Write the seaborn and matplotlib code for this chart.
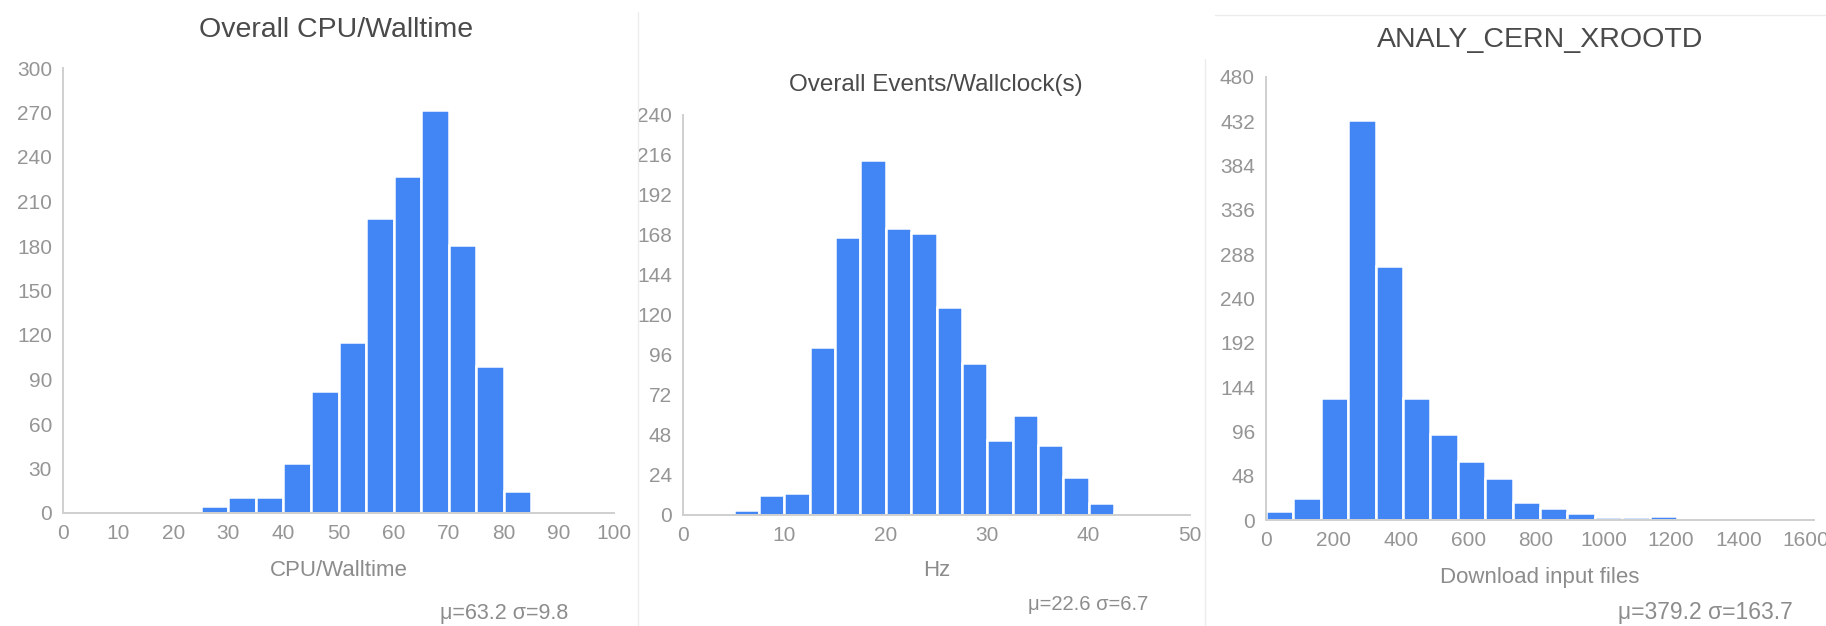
import numpy as np
import pandas as pd
import seaborn as sns
import matplotlib.pyplot as plt
from matplotlib.lines import Line2D

# counts per bin (20 equal bins per panel)
cpu_counts = [0, 0, 0, 0, 0, 5, 11, 11, 34, 82, 115, 199, 227, 272, 181, 99, 15, 0, 0, 0]
cpu_range = (0, 100)
cpu_ticks = list(range(0, 101, 10))
cpu_yticks = list(range(0, 301, 30))

hz_counts = [0, 0, 3, 12, 13, 101, 167, 213, 172, 169, 125, 91, 45, 60, 42, 23, 7, 1, 0, 0]
hz_range = (0, 50)
hz_ticks = list(range(0, 51, 10))
hz_yticks = list(range(0, 241, 24))

dl_counts = [10, 24, 132, 433, 275, 132, 93, 64, 45, 20, 13, 8, 3, 3, 4, 0, 0, 0, 0, 2]
dl_range = (0, 1624)
dl_ticks = list(range(0, 1601, 200))
dl_yticks = list(range(0, 481, 48))

titles = ['Overall CPU/Walltime', 'Overall Events/Wallclock(s)', 'ANALY_CERN_XROOTD']
xlabels = ['CPU/Walltime', 'Hz', 'Download input files']
stats = ['\u03bc=63.2 \u03c3=9.8', '\u03bc=22.6 \u03c3=6.7', '\u03bc=379.2 \u03c3=163.7']

sns.set_style('white')
plt.rcParams['font.family'] = ['Liberation Sans', 'DejaVu Sans']

W, H = 1826, 626
fig = plt.figure(figsize=(W / 100, H / 100), dpi=100)

def fx(px):
    return px / W

def fy(py):
    return 1 - py / H

# axes boxes in pixels: left, right, bottom, top
boxes = [(63, 614, 513, 68), (683, 1190, 515, 115), (1266, 1814, 520, 77)]
panels = [
    (cpu_counts, cpu_range, cpu_ticks, cpu_yticks),
    (hz_counts, hz_range, hz_ticks, hz_yticks),
    (dl_counts, dl_range, dl_ticks, dl_yticks),
]
title_pos = [(336, 30, 20.5), (936, 85, 17.5), (1540, 40, 20.5)]
xlabel_y = [571, 571, 577]
stat_pos = [(568, 613, 15.5), (1148, 605, 14.5), (1793, 613, 16.5)]

blue = '#4285f4'
for i, (counts, rng, xt, yt) in enumerate(panels):
    l, r, b, t = boxes[i]
    ax = fig.add_axes([fx(l), fy(b), fx(r - l), (b - t) / H])
    edges = np.linspace(rng[0], rng[1], len(counts) + 1).tolist()
    centers = [(a + c) / 2 for a, c in zip(edges[:-1], edges[1:])]
    df = pd.DataFrame({'x': centers, 'n': counts})
    sns.histplot(data=df, x='x', weights='n', bins=edges, ax=ax,
                 color=blue, alpha=1, edgecolor='white', linewidth=1.8)
    ax.set_xlim(rng)
    ax.set_ylim(0, yt[-1])
    ax.set_xticks(xt)
    ax.set_yticks(yt)
    ax.set_xlabel('')
    ax.set_ylabel('')
    for s in ['top', 'right']:
        ax.spines[s].set_visible(False)
    for s in ['left', 'bottom']:
        ax.spines[s].set_color('#cfcfcf')
        ax.spines[s].set_linewidth(1.4)
    ax.tick_params(length=4, width=1, color='#cfcfcf', labelcolor='#959595',
                   labelsize=15, pad=4)

    tx, ty, ts = title_pos[i]
    fig.text(fx(tx), fy(ty), titles[i], ha='center', va='center',
             fontsize=ts, color='#4a4a4a')
    fig.text(fx((l + r) / 2), fy(xlabel_y[i]), xlabels[i], ha='center',
             va='center', fontsize=16, color='#8c8c8c')
    sx, sy, ss = stat_pos[i]
    fig.text(fx(sx), fy(sy), stats[i], ha='right', va='center',
             fontsize=ss, color='#8c8c8c')

# light separators between the panels
fig.add_artist(Line2D([fx(638), fx(638)], [fy(12), 0], color='#ececec', lw=1))
fig.add_artist(Line2D([fx(1205), fx(1205)], [fy(59), 0], color='#ececec', lw=1))
fig.add_artist(Line2D([fx(1215), 1], [fy(15), fy(15)], color='#ececec', lw=1))

fig.savefig('out.png', dpi=100)
